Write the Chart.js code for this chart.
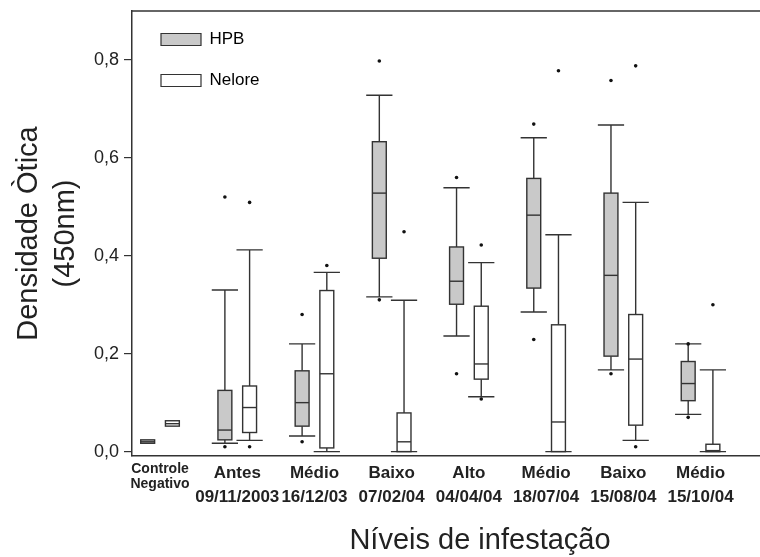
<!DOCTYPE html>
<html>
<head>
<meta charset="utf-8">
<script src="https://cdn.jsdelivr.net/npm/chart.js@4.4.1/dist/chart.umd.min.js"></script>
<style>
  html, body { margin: 0; padding: 0; background: #fff; }
  #wrap { width: 760px; height: 557px; }
</style>
</head>
<body>
<div id="wrap"><canvas id="chart"></canvas></div>
<script>
// Categories (two-line tick labels)
const levels = ['Controle', 'Antes', 'Médio', 'Baixo', 'Alto', 'Médio', 'Baixo', 'Médio'];
const dates = ['Negativo', '09/11/2003', '16/12/03', '07/02/04', '04/04/04', '18/07/04', '15/08/04', '15/10/04'];
const yTicks = [0, 0.2, 0.4, 0.6, 0.8];
const xTitle = 'Níveis de infestação';

// HPB box statistics (whisker low, Q1, median, Q3, whisker high, outliers)
const hpbLow = [null, 0.017, 0.032, 0.316, 0.236, 0.285, 0.167, 0.076];
const hpbQ1 = [0.017, 0.024, 0.052, 0.395, 0.301, 0.334, 0.195, 0.104];
const hpbMedian = [0.020, 0.044, 0.100, 0.528, 0.348, 0.483, 0.360, 0.139];
const hpbQ3 = [0.024, 0.125, 0.165, 0.633, 0.418, 0.558, 0.528, 0.184];
const hpbHigh = [null, 0.330, 0.220, 0.728, 0.539, 0.641, 0.667, 0.220];
const hpbOutliers = [[], [0.010, 0.520], [0.020, 0.280], [0.310, 0.798], [0.159, 0.560], [0.229, 0.669], [0.159, 0.758], [0.070, 0.220]];

// Nelore box statistics
const neloreLow = [null, 0.023, 0.000, 0.000, 0.112, 0.000, 0.023, 0.000];
const neloreQ1 = [0.052, 0.039, 0.0075, 0.000, 0.148, 0.000, 0.054, 0.000];
const neloreMedian = [0.057, 0.090, 0.159, 0.020, 0.179, 0.0605, 0.189, 0.002];
const neloreQ3 = [0.063, 0.134, 0.329, 0.079, 0.297, 0.259, 0.280, 0.015];
const neloreHigh = [null, 0.412, 0.366, 0.309, 0.386, 0.443, 0.509, 0.167];
const neloreOutliers = [[], [0.010, 0.509], [0.380], [0.449], [0.1075, 0.422], [0.778], [0.010, 0.788], [0.300]];

const LINE = '#333';
const FONT = "'Liberation Sans', Arial, Helvetica, sans-serif";
const BOX_HALF = 0.09;
const CAP_HALF = 0.17;

const series = [
    { name: 'HPB', shift: -0.16, fill: '#c9c9c9', low: hpbLow, q1: hpbQ1, median: hpbMedian, q3: hpbQ3, high: hpbHigh, outliers: hpbOutliers },
    { name: 'Nelore', shift: 0.16, fill: '#ffffff', low: neloreLow, q1: neloreQ1, median: neloreMedian, q3: neloreQ3, high: neloreHigh, outliers: neloreOutliers }
];

Chart.defaults.font.family = FONT;
Chart.defaults.color = '#222';

// Boxes and whiskers drawn through the chart scales
const boxPlot = {
    id: 'boxPlot',
    afterLayout(chart) {
        // put the in-plot legend at its spot
        chart.legend.left = chart.chartArea.left + 5;
        chart.legend.top = chart.chartArea.top - 4;
    },
    beforeDatasetsDraw(chart) {
        const { ctx, scales: { x, y } } = chart;
        ctx.save();
        ctx.strokeStyle = LINE;
        ctx.lineWidth = 1.4;
        series.forEach(s => {
            s.median.forEach((med, i) => {
                const pos = i + 1 + s.shift;
                const cx = x.getPixelForValue(pos);
                const bw = x.getPixelForValue(pos + BOX_HALF) - cx;
                const cw = x.getPixelForValue(pos + CAP_HALF) - cx;
                const yq1 = y.getPixelForValue(s.q1[i]);
                const yq3 = y.getPixelForValue(s.q3[i]);
                const ym = y.getPixelForValue(med);
                if (s.low[i] !== null) {
                    const yl = y.getPixelForValue(s.low[i]);
                    const yh = y.getPixelForValue(s.high[i]);
                    ctx.beginPath();
                    ctx.moveTo(cx, yq1); ctx.lineTo(cx, yl);
                    ctx.moveTo(cx, yq3); ctx.lineTo(cx, yh);
                    ctx.moveTo(cx - cw, yl); ctx.lineTo(cx + cw, yl);
                    ctx.moveTo(cx - cw, yh); ctx.lineTo(cx + cw, yh);
                    ctx.stroke();
                }
                ctx.fillStyle = s.fill;
                ctx.fillRect(cx - bw, yq3, bw * 2, yq1 - yq3);
                ctx.strokeRect(cx - bw, yq3, bw * 2, yq1 - yq3);
                ctx.beginPath();
                ctx.moveTo(cx - bw, ym); ctx.lineTo(cx + bw, ym);
                ctx.stroke();
            });
        });
        ctx.restore();
    },
    afterDraw(chart) {
        const { ctx, chartArea } = chart;
        ctx.save();
        // top frame line
        ctx.strokeStyle = LINE;
        ctx.lineWidth = 1.5;
        ctx.beginPath();
        ctx.moveTo(chartArea.left, chartArea.top);
        ctx.lineTo(chartArea.right, chartArea.top);
        ctx.stroke();
        // x axis title: the original frame runs past the right edge, so it sits right of centre
        ctx.fillStyle = '#222';
        ctx.font = '29px ' + FONT;
        ctx.textAlign = 'center';
        ctx.textBaseline = 'middle';
        ctx.fillText(xTitle, (chartArea.left + chartArea.right) / 2 + 34, 541);
        ctx.restore();
    }
};

new Chart(document.getElementById('chart'), {
    type: 'scatter',
    data: {
        datasets: series.map(s => ({
            label: s.name,
            data: s.outliers.flatMap((vals, i) => vals.map(v => ({ x: i + 1 + s.shift, y: v }))),
            backgroundColor: '#111',
            borderWidth: 0,
            pointRadius: 1.8,
            pointHoverRadius: 1.8
        }))
    },
    options: {
        responsive: true,
        maintainAspectRatio: false,
        animation: false,
        layout: { autoPadding: false, padding: { top: 11, left: 0, right: 0, bottom: 0 } },
        plugins: {
            tooltip: { enabled: false },
            legend: {
                position: 'chartArea',
                align: 'start',
                labels: {
                    boxWidth: 40,
                    boxHeight: 12,
                    padding: 24,
                    font: { size: 17 },
                    generateLabels: () => series.map((s, i) => ({
                        text: s.name,
                        fillStyle: s.fill,
                        strokeStyle: LINE,
                        lineWidth: 1.2,
                        datasetIndex: i
                    }))
                }
            }
        },
        scales: {
            x: {
                type: 'linear',
                min: 0.637,
                max: 8.77,
                afterFit: scale => {
                    scale.height = 101;
                    scale.paddingLeft = 0;
                    scale.paddingRight = 0;
                },
                afterBuildTicks: scale => { scale.ticks = levels.map((_, i) => ({ value: i + 1 })); },
                grid: { display: false, drawTicks: false },
                border: { display: true, color: LINE, width: 1.5 },
                ticks: {
                    autoSkip: false,
                    maxRotation: 0,
                    padding: 5,
                    color: '#222',
                    font: c => c.index === 0
                        ? { size: 14, weight: 'bold', lineHeight: 1.1 }
                        : { size: 17, weight: 'bold', lineHeight: 1.41 },
                    callback: (v, i) => [levels[i], dates[i]]
                }
            },
            y: {
                min: -0.009,
                max: 0.9,
                afterFit: scale => {
                    scale.width = 132;
                    scale.paddingTop = 0;
                    scale.paddingBottom = 0;
                },
                afterBuildTicks: scale => { scale.ticks = yTicks.map(v => ({ value: v })); },
                grid: { display: true, drawOnChartArea: false, tickLength: 8, color: LINE, lineWidth: 1.2 },
                border: { display: true, color: LINE, width: 1.5 },
                ticks: {
                    padding: 5,
                    color: '#222',
                    font: { size: 18 },
                    callback: v => v.toFixed(1).replace('.', ',')
                },
                title: {
                    display: true,
                    text: ['Densidade Òtica', '(450nm)'],
                    color: '#222',
                    font: { size: 29, lineHeight: 1.27 },
                    padding: { top: 10.5, bottom: 0 }
                }
            }
        }
    },
    plugins: [boxPlot]
});
</script>
</body>
</html>
